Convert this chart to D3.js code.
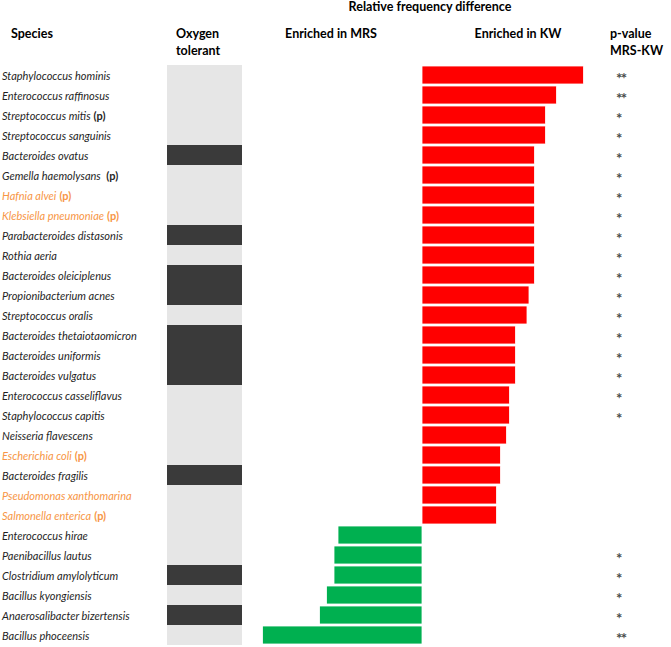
<!DOCTYPE html>
<html>
<head>
<meta charset="utf-8">
<script src="https://cdn.jsdelivr.net/npm/d3@7"></script>
<style>
body{margin:0;background:#fff;}
svg{display:block;font-family:Lato,"Open Sans",sans-serif;}
</style>
</head>
<body>
<svg id="chart" width="671" height="647"></svg>
<script>
// species, top to bottom
const species = [
  "Staphylococcus hominis","Enterococcus raffinosus","Streptococcus mitis","Streptococcus sanguinis",
  "Bacteroides ovatus","Gemella haemolysans ","Hafnia alvei","Klebsiella pneumoniae",
  "Parabacteroides distasonis","Rothia aeria","Bacteroides oleiciplenus","Propionibacterium acnes",
  "Streptococcus oralis","Bacteroides thetaiotaomicron","Bacteroides uniformis","Bacteroides vulgatus",
  "Enterococcus casseliflavus","Staphylococcus capitis","Neisseria flavescens","Escherichia coli",
  "Bacteroides fragilis","Pseudomonas xanthomarina","Salmonella enterica","Enterococcus hirae",
  "Paenibacillus lautus","Clostridium amylolyticum","Bacillus kyongiensis","Anaerosalibacter bizertensis",
  "Bacillus phoceensis"
];
// (p) marker
const pathogen = [0,0,1,0,0,1,1,1,0,0,0,0,0,0,0,0,0,0,0,1,0,0,1,0,0,0,0,0,0];
// orange label
const highlighted = [0,0,0,0,0,0,1,1,0,0,0,0,0,0,0,0,0,0,0,1,0,1,1,0,0,0,0,0,0];
// oxygen tolerant (1 = yes)
const oxygen = [1,1,1,1,0,1,1,1,0,1,0,0,1,0,0,0,1,1,1,1,0,1,1,1,1,0,1,0,1];
// relative frequency difference (positive = KW, negative = MRS)
const freqDiff = [32.3,26.9,24.7,24.7,22.5,22.5,22.5,22.5,22.5,22.5,22.5,21.4,21.0,18.7,18.7,18.7,
  17.5,17.5,16.9,15.7,15.7,14.9,14.9,-16.8,-17.6,-17.6,-19.1,-20.5,-31.9];
const pvalue = ["**","**","*","*","*","*","*","*","*","*","*","*","*","*","*","*","*","*",
  "","","","","","","*","*","*","*","**"];

const svg = d3.select("#chart");

const row = d3.scaleBand().domain(d3.range(species.length)).range([65, 645]);
const x = d3.scaleLinear().domain([-40, 40]).range([222, 622]);

// headers
const head = svg.append("g").attr("font-weight", "bold").attr("font-size", 12.5).attr("fill", "#000");
head.append("text").attr("x", 11).attr("y", 38).text("Species");
head.append("text").attr("x", 176).attr("y", 38).text("Oxygen");
head.append("text").attr("x", 176).attr("y", 55).text("tolerant");
head.append("text").attr("x", 331).attr("y", 38).attr("text-anchor", "middle").text("Enriched in MRS");
head.append("text").attr("x", 518).attr("y", 38).attr("text-anchor", "middle").text("Enriched in KW");
head.append("text").attr("x", 430).attr("y", 11).attr("text-anchor", "middle").text("Relative frequency difference");
head.append("text").attr("x", 610).attr("y", 38).text("p-value");
head.append("text").attr("x", 610).attr("y", 55).text("MRS-KW");

// species labels
const lab = svg.append("g").attr("font-size", 11)
  .selectAll("text").data(species).join("text")
  .attr("x", 2)
  .attr("y", (d, i) => row(i) + row.bandwidth() / 2 + 5)
  .attr("fill", (d, i) => highlighted[i] ? "#f79646" : "#1f1f1f");
lab.append("tspan").attr("font-style", "italic").text(d => d);
lab.filter((d, i) => pathogen[i]).append("tspan")
  .attr("font-weight", "bold").attr("dx", 3).text("(p)");

// oxygen column
svg.append("g").selectAll("rect").data(oxygen).join("rect")
  .attr("x", 167).attr("width", 75)
  .attr("y", (d, i) => row(i)).attr("height", row.bandwidth())
  .attr("fill", d => d ? "#e6e6e6" : "#3a3a3a");

// bars
svg.append("g").selectAll("rect").data(freqDiff).join("rect")
  .attr("x", d => x(Math.min(0, d)))
  .attr("width", d => Math.abs(x(d) - x(0)))
  .attr("y", (d, i) => row(i) + 1)
  .attr("height", row.bandwidth() - 2)
  .attr("fill", d => d > 0 ? "#ff0000" : "#00b050")
  .attr("stroke", "#fff").attr("stroke-width", 0.8);

// p-values
svg.append("g").attr("font-size", 15).attr("font-weight", "bold").attr("fill", "#4a4a4a")
  .attr("letter-spacing", -1.5)
  .selectAll("text").data(pvalue).join("text")
  .attr("x", 616)
  .attr("y", (d, i) => row(i) + row.bandwidth() / 2 + 9)
  .text(d => d);
</script>
</body>
</html>
